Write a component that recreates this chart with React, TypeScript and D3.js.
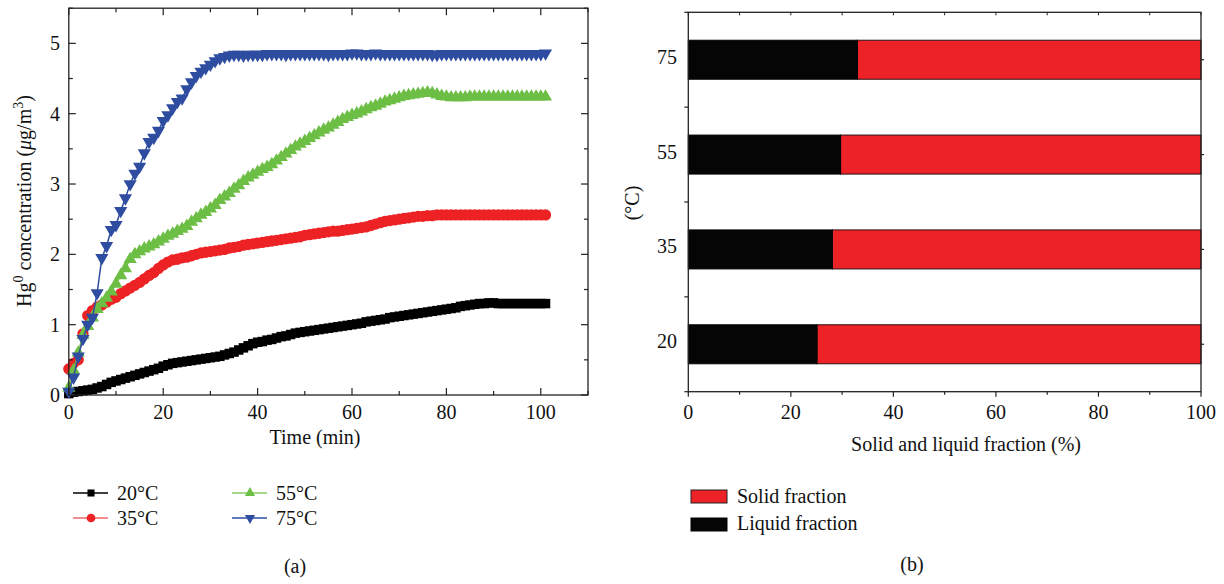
import React from "react";
import * as d3 from "d3";

// ---------- Data (a) ----------
const timeMin = [
  0, 1, 2, 3, 4, 5, 6, 7, 8, 9, 10, 11, 12, 13, 14, 15, 16, 17, 18, 19,
  20, 21, 22, 23, 24, 25, 26, 27, 28, 29, 30, 31, 32, 33, 34, 35, 36, 37, 38, 39,
  40, 41, 42, 43, 44, 45, 46, 47, 48, 49, 50, 51, 52, 53, 54, 55, 56, 57, 58, 59,
  60, 61, 62, 63, 64, 65, 66, 67, 68, 69, 70, 71, 72, 73, 74, 75, 76, 77, 78, 79,
  80, 81, 82, 83, 84, 85, 86, 87, 88, 89, 90, 91, 92, 93, 94, 95, 96, 97, 98, 99,
  100, 101,
];

const hg20 = [
  0.02, 0.04, 0.05, 0.06, 0.07, 0.08, 0.10, 0.12, 0.15, 0.18,
  0.20, 0.22, 0.24, 0.26, 0.28, 0.30, 0.32, 0.34, 0.36, 0.38,
  0.41, 0.43, 0.45, 0.46, 0.47, 0.48, 0.49, 0.50, 0.51, 0.52,
  0.53, 0.54, 0.55, 0.57, 0.59, 0.61, 0.64, 0.67, 0.70, 0.73,
  0.75, 0.76, 0.78, 0.79, 0.81, 0.83, 0.84, 0.86, 0.88, 0.89,
  0.90, 0.91, 0.92, 0.93, 0.94, 0.95, 0.96, 0.97, 0.98, 0.99,
  1.00, 1.01, 1.02, 1.04, 1.05, 1.06, 1.07, 1.08, 1.10, 1.11,
  1.12, 1.13, 1.14, 1.15, 1.16, 1.17, 1.18, 1.19, 1.20, 1.21,
  1.22, 1.23, 1.24, 1.26, 1.27, 1.28, 1.29, 1.30, 1.30, 1.31,
  1.31, 1.30, 1.30, 1.30, 1.30, 1.30, 1.30, 1.30, 1.30, 1.30,
  1.30, 1.30,
];

const hg35 = [
  0.37, 0.45, 0.50, 0.87, 1.13, 1.20, 1.25, 1.28, 1.32, 1.36,
  1.39, 1.44, 1.48, 1.52, 1.56, 1.60, 1.65, 1.70, 1.74, 1.80,
  1.85, 1.89, 1.92, 1.93, 1.95, 1.96, 1.98, 2.00, 2.02, 2.03,
  2.04, 2.05, 2.06, 2.07, 2.09, 2.10, 2.11, 2.13, 2.14, 2.15,
  2.16, 2.17, 2.18, 2.19, 2.20, 2.21, 2.22, 2.23, 2.24, 2.25,
  2.27, 2.28, 2.29, 2.30, 2.31, 2.32, 2.33, 2.33, 2.34, 2.35,
  2.36, 2.37, 2.38, 2.39, 2.41, 2.43, 2.45, 2.47, 2.48, 2.49,
  2.50, 2.51, 2.52, 2.53, 2.54, 2.54, 2.55, 2.55, 2.56, 2.56,
  2.56, 2.56, 2.56, 2.56, 2.56, 2.56, 2.56, 2.56, 2.56, 2.56,
  2.56, 2.56, 2.56, 2.56, 2.56, 2.56, 2.56, 2.56, 2.56, 2.56,
  2.56, 2.56,
];

const hg55 = [
  0.10, 0.35, 0.60, 0.85, 0.98, 1.10, 1.22, 1.30, 1.38, 1.47,
  1.58, 1.70, 1.80, 1.93, 2.00, 2.04, 2.08, 2.11, 2.14, 2.18,
  2.22, 2.26, 2.29, 2.33, 2.36, 2.40, 2.46, 2.51, 2.56, 2.60,
  2.65, 2.70, 2.77, 2.82, 2.87, 2.93, 2.98, 3.04, 3.09, 3.13,
  3.17, 3.21, 3.24, 3.28, 3.33, 3.38, 3.43, 3.48, 3.53, 3.57,
  3.61, 3.65, 3.69, 3.73, 3.77, 3.80, 3.84, 3.88, 3.92, 3.95,
  3.98, 4.00, 4.03, 4.06, 4.09, 4.11, 4.14, 4.17, 4.19, 4.21,
  4.23, 4.25, 4.26, 4.27, 4.28, 4.29, 4.30, 4.29, 4.27, 4.25,
  4.24, 4.23, 4.23, 4.23, 4.23, 4.24, 4.24, 4.24, 4.24, 4.24,
  4.24, 4.24, 4.24, 4.24, 4.24, 4.24, 4.24, 4.24, 4.24, 4.24,
  4.24, 4.24,
];

const hg75 = [
  0.05, 0.25, 0.55, 0.80, 1.00, 1.10, 1.45, 1.95, 2.12, 2.35,
  2.42, 2.62, 2.80, 3.00, 3.15, 3.25, 3.44, 3.60, 3.66, 3.76,
  3.90, 3.98, 4.08, 4.17, 4.22, 4.35, 4.45, 4.54, 4.60, 4.65,
  4.70, 4.75, 4.79, 4.81, 4.83, 4.84, 4.84, 4.83, 4.84, 4.84,
  4.84, 4.84, 4.85, 4.85, 4.85, 4.85, 4.84, 4.85, 4.85, 4.85,
  4.85, 4.85, 4.85, 4.85, 4.85, 4.84, 4.85, 4.85, 4.85, 4.85,
  4.86, 4.86, 4.85, 4.85, 4.85, 4.86, 4.85, 4.85, 4.85, 4.85,
  4.85, 4.85, 4.85, 4.85, 4.85, 4.85, 4.85, 4.84, 4.84, 4.85,
  4.85, 4.85, 4.85, 4.85, 4.85, 4.85, 4.85, 4.85, 4.85, 4.85,
  4.85, 4.85, 4.85, 4.85, 4.85, 4.85, 4.85, 4.85, 4.85, 4.85,
  4.85, 4.86,
];

const seriesLabels = ["20°C", "35°C", "55°C", "75°C"];
const xTickLabelsA = [0, 20, 40, 60, 80, 100];
const yTickLabelsA = [0, 1, 2, 3, 4, 5];

// ---------- Data (b) ----------
const tempCategories = ["75", "55", "35", "20"];
const liquidFraction = [33, 29.7, 28.1, 25.1];
const xTickLabelsB = [0, 20, 40, 60, 80, 100];

const FONT = "'Liberation Serif', 'Times New Roman', serif";

const seriesStyle = [
  { color: "#000000", legendLine: "#000000", symbol: d3.symbolSquare, size: 90, rotate: 0, legendSize: 50 },
  { color: "#ED2224", legendLine: "#F06868", symbol: d3.symbolCircle, size: 100, rotate: 0, legendSize: 60 },
  { color: "#6CBE45", legendLine: "#86CD62", symbol: d3.symbolTriangle, size: 75, rotate: 0, legendSize: 45 },
  { color: "#2E4DA0", legendLine: "#2E4DA0", symbol: d3.symbolTriangle, size: 75, rotate: 180, legendSize: 45 },
];

export default function App() {
  // ---- chart (a) scales ----
  const xA = d3.scaleLinear().domain([0, 110]).range([68.8, 588]);
  const yA = d3.scaleLinear().domain([0, 5.5]).range([395, 8.2]);
  const allSeries = [hg20, hg35, hg55, hg75];

  const line = d3
    .line<number>()
    .x((_, i) => xA(timeMin[i]))
    .y((d) => yA(d));

  const xMinorA = d3.range(0, 111, 10);
  const yMinorA = d3.range(0, 5.51, 0.5);

  // ---- chart (b) scales ----
  const xB = d3.scaleLinear().domain([0, 100]).range([688.3, 1201]);
  const yB = d3.scaleBand<string>().domain(tempCategories).range([12.3, 391.7]).paddingInner(0).paddingOuter(0);
  const barH = 39;
  const xMinorB = d3.range(0, 101, 10);

  const axisColor = "#222";

  return (
    <svg
      width={1224}
      height={584}
      style={{ position: "absolute", left: 0, top: 0, background: "#fff" }}
      fontFamily={FONT}
    >
      <rect x={0} y={0} width={1224} height={584} fill="#fff" />

      {/* ================= Chart (a) ================= */}
      <g>
        {allSeries.map((vals, si) => {
          const st = seriesStyle[si];
          const sym = d3.symbol().type(st.symbol).size(st.size)() as string;
          return (
            <g key={si}>
              <path d={line(vals) as string} fill="none" stroke={st.color} strokeWidth={1.5} />
              {vals.map((v, i) => (
                <path
                  key={i}
                  d={sym}
                  fill={st.color}
                  transform={`translate(${xA(timeMin[i])},${yA(v)}) rotate(${st.rotate})`}
                />
              ))}
            </g>
          );
        })}

        <rect
          x={xA(0)}
          y={yA(5.5)}
          width={xA(110) - xA(0)}
          height={yA(0) - yA(5.5)}
          fill="none"
          stroke={axisColor}
          strokeWidth={1.3}
        />
        {xMinorA.map((t) => {
          const len = t % 20 === 0 ? 7 : 4;
          return (
            <g key={"xt" + t}>
              <line x1={xA(t)} x2={xA(t)} y1={yA(0)} y2={yA(0) - len} stroke={axisColor} strokeWidth={1.2} />
              <line x1={xA(t)} x2={xA(t)} y1={yA(5.5)} y2={yA(5.5) + len} stroke={axisColor} strokeWidth={1.2} />
            </g>
          );
        })}
        {yMinorA.map((v) => {
          const len = Math.abs(v - Math.round(v)) < 1e-6 ? 7 : 4;
          return (
            <g key={"yt" + v}>
              <line x1={xA(0)} x2={xA(0) + len} y1={yA(v)} y2={yA(v)} stroke={axisColor} strokeWidth={1.2} />
              <line x1={xA(110)} x2={xA(110) - len} y1={yA(v)} y2={yA(v)} stroke={axisColor} strokeWidth={1.2} />
            </g>
          );
        })}
        {xTickLabelsA.map((t) => (
          <text key={"xl" + t} x={xA(t)} y={419} fontSize={20} textAnchor="middle" fill="#111">
            {t}
          </text>
        ))}
        {yTickLabelsA.map((v) => (
          <text key={"yl" + v} x={60} y={yA(v) + 7} fontSize={20} textAnchor="end" fill="#111">
            {v}
          </text>
        ))}
        <text x={315} y={444} fontSize={20} textAnchor="middle" fill="#111">
          Time (min)
        </text>
        <text transform="translate(31,201) rotate(-90)" fontSize={20} textAnchor="middle" fill="#111">
          Hg
          <tspan dy={-8} fontSize={14}>0</tspan>
          <tspan dy={8}> concentration (</tspan>
          <tspan fontStyle="italic">μ</tspan>
          <tspan>g/m</tspan>
          <tspan dy={-8} fontSize={14}>3</tspan>
          <tspan dy={8}>)</tspan>
        </text>

        {seriesLabels.map((lab, si) => {
          const st = seriesStyle[si];
          const col = si < 2 ? 0 : 1;
          const row = si % 2;
          const x0 = col === 0 ? 73 : 232;
          const yy = row === 0 ? 493 : 518;
          const sym = d3.symbol().type(st.symbol).size(st.legendSize)() as string;
          return (
            <g key={"lg" + si}>
              <line x1={x0} x2={x0 + 35} y1={yy} y2={yy} stroke={st.legendLine} strokeWidth={1.6} />
              <path d={sym} fill={st.color} transform={`translate(${x0 + 18},${yy}) rotate(${st.rotate})`} />
              <text x={x0 + 44} y={yy + 7} fontSize={20} fill="#111">
                {lab}
              </text>
            </g>
          );
        })}
        <text x={295} y={573} fontSize={20} textAnchor="middle" fill="#111">
          (a)
        </text>
      </g>

      {/* ================= Chart (b) ================= */}
      <g>
        {tempCategories.map((c, i) => {
          const cy = (yB(c) as number) + yB.bandwidth() / 2;
          const liq = liquidFraction[i];
          return (
            <g key={"bar" + c}>
              <rect
                x={xB(liq)}
                y={cy - barH / 2}
                width={xB(100) - xB(liq)}
                height={barH}
                fill="#EC2227"
                stroke="#2a1010"
                strokeWidth={1}
              />
              <rect
                x={xB(0)}
                y={cy - barH / 2}
                width={xB(liq) - xB(0)}
                height={barH}
                fill="#050505"
                stroke="#050505"
                strokeWidth={1}
              />
            </g>
          );
        })}

        <rect
          x={xB(0)}
          y={12.3}
          width={xB(100) - xB(0)}
          height={391.7 - 12.3}
          fill="none"
          stroke={axisColor}
          strokeWidth={1.3}
        />
        {xMinorB.map((t) => {
          const len = t % 20 === 0 ? 5 : 3;
          return (
            <g key={"bxt" + t}>
              <line x1={xB(t)} x2={xB(t)} y1={391.7} y2={391.7 + len} stroke={axisColor} strokeWidth={1.2} />
              <line x1={xB(t)} x2={xB(t)} y1={12.3} y2={12.3 + 3} stroke={axisColor} strokeWidth={1} />
            </g>
          );
        })}
        {tempCategories.map((c) => (
          <line
            key={"blt" + c}
            x1={xB(0) - 4}
            x2={xB(0)}
            y1={yB(c) as number}
            y2={yB(c) as number}
            stroke={axisColor}
            strokeWidth={1.2}
          />
        ))}
        <line x1={xB(0) - 4} x2={xB(0)} y1={391.7} y2={391.7} stroke={axisColor} strokeWidth={1.2} />
        {tempCategories.map((c) => {
          const cy = (yB(c) as number) + yB.bandwidth() / 2;
          return (
            <line key={"brt" + c} x1={xB(100)} x2={xB(100) + 3} y1={cy} y2={cy} stroke={axisColor} strokeWidth={1.2} />
          );
        })}
        {xTickLabelsB.map((t) => (
          <text key={"bxl" + t} x={xB(t)} y={419} fontSize={20} textAnchor="middle" fill="#111">
            {t}
          </text>
        ))}
        {tempCategories.map((c) => {
          const cy = (yB(c) as number) + yB.bandwidth() / 2;
          return (
            <text key={"byl" + c} x={677} y={cy + 4} fontSize={20} textAnchor="end" fill="#111">
              {c}
            </text>
          );
        })}
        <text x={966} y={451} fontSize={20} textAnchor="middle" fill="#111">
          Solid and liquid fraction (%)
        </text>
        <text transform="translate(639,203) rotate(-90)" fontSize={20} textAnchor="middle" fill="#111">
          (°C)
        </text>

        <rect x={691} y={490} width={36} height={13} fill="#EC2227" stroke="#222" strokeWidth={1} />
        <text x={737} y={503} fontSize={20} fill="#111">
          Solid fraction
        </text>
        <rect x={691} y={518} width={36} height={13} fill="#050505" stroke="#050505" strokeWidth={1} />
        <text x={737} y={530} fontSize={20} fill="#111">
          Liquid fraction
        </text>
        <text x={912} y={571} fontSize={20} textAnchor="middle" fill="#111">
          (b)
        </text>
      </g>
    </svg>
  );
}
